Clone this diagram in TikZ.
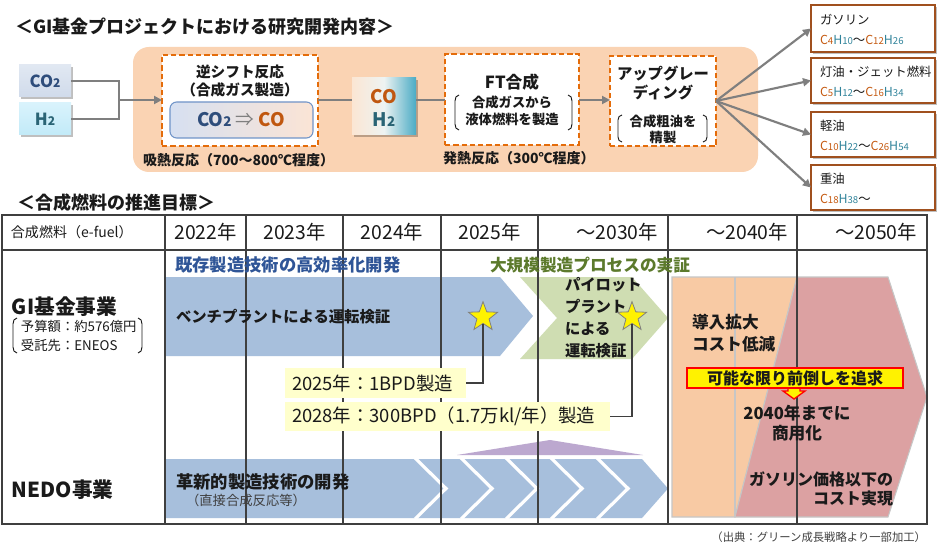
\documentclass[tikz,border=0pt]{standalone}
\usepackage{fontspec}
\setmainfont{Noto Sans CJK JP}
\usetikzlibrary{arrows.meta,shapes.geometric,fit,shadows}
\newcommand\fsz[2]{\fontsize{#1}{#2}\selectfont}
\newcommand\smsub[2]{{\fontsize{#1}{#1}\selectfont #2}}
\newcommand\fC[1]{\textcolor{formC}{C\smsub{7.2}{#1}}}
\newcommand\fH[1]{\textcolor{formH}{H\smsub{7.2}{#1}}}
\definecolor{textblack}{HTML}{1A1A1A}
\definecolor{peach}{HTML}{FAD3B3}
\definecolor{dashor}{HTML}{E46C0A}
\definecolor{arrowgrey}{HTML}{7F7F7F}
\definecolor{dblue}{HTML}{2E4D7B}
\definecolor{cobrown}{HTML}{C0570F}
\definecolor{hteal}{HTML}{2A6475}
\definecolor{fuelbrown}{HTML}{A0501E}
\definecolor{formC}{HTML}{C55A11}
\definecolor{formH}{HTML}{31849B}
\definecolor{bandblue}{HTML}{A7BFDC}
\definecolor{bandgreen}{HTML}{CFDDB2}
\definecolor{bandorange}{HTML}{F8CAA4}
\definecolor{bandpink}{HTML}{DCA1A2}
\definecolor{bandpurple}{HTML}{BCA8CF}
\definecolor{callyellow}{HTML}{FFFFCC}
\definecolor{titleblue}{HTML}{2F5597}
\definecolor{olivetext}{HTML}{5C7A2C}
\definecolor{gridline}{HTML}{3F3F3F}
\definecolor{innerblue}{HTML}{7094C8}
\definecolor{cotop}{HTML}{E1E8F2}
\definecolor{cobot}{HTML}{D0DBEB}
\definecolor{htop}{HTML}{D9F3FC}
\definecolor{hbot}{HTML}{C2EAF8}
\definecolor{rxleft}{HTML}{D6E0F1}
\definecolor{rxright}{HTML}{FBE4D5}
\definecolor{chleft}{HTML}{FBE6D3}
\definecolor{chright}{HTML}{4AABC5}
\definecolor{chmid}{HTML}{EEF3F2}
\begin{document}
\begin{tikzpicture}[x=0.75pt,y=-0.75pt,
  box/.style={inner sep=0pt,outer sep=0pt},
  lbl/.style={inner sep=0pt,outer sep=0pt,text=textblack},
  shadowed/.style={drop shadow={shadow xshift=1.2pt,shadow yshift=-1.2pt,fill=black,opacity=0.25}},
  dashbox/.style={box,draw=dashor,line width=1.6pt,dash pattern=on 4pt off 2.2pt,fill=white},
  gline/.style={draw=arrowgrey,line width=1.6pt},
  garrow/.style={gline,-{Triangle[length=6pt,width=6pt]}},
  fuelbox/.style={box,draw=fuelbrown,line width=1.5pt,fill=white,shadowed},
  grid/.style={draw=gridline,line width=0.9pt},
  brk/.style={draw=textblack,line width=0.7pt},
  lead/.style={draw=gridline,line width=0.8pt},
  starnode/.style={star,star points=5,star point ratio=2.4,minimum size=23pt,inner sep=0pt,fill=yellow,draw=gray,line width=0.6pt},
  callout/.style={box,fill=callyellow}]
\useasboundingbox (0,0) rectangle (937,545);
\fill[white] (0,0) rectangle (937,545);

% ---------- top section ----------
\node[lbl,anchor=west,font=\fsz{13.5}{16}\bfseries] (title1) at (15,27) {＜GI基金プロジェクトにおける研究開発内容＞};
\node[box,fit={(133,47)(758,172)},fill=peach,rounded corners=12pt] (stage) {};

\node[box,fit={(19,65)(71,97)},top color=cotop,bottom color=cobot,shadowed] (co2) {};
\node[lbl,font=\fsz{12.5}{14}\bfseries,text=dblue] (co2t) at (45,81) {CO\smsub{9}{2}};
\node[box,fit={(19,103)(71,135)},top color=htop,bottom color=hbot,shadowed] (h2) {};
\node[lbl,font=\fsz{12.5}{14}\bfseries,text=hteal] (h2t) at (45,119) {H\smsub{9}{2}};
\coordinate (join) at (119,100);

\node[dashbox,fit={(162,55)(318,146)}] (rev) {};
\node[lbl,align=center,font=\fsz{11}{13.5}\bfseries] (revt) at (240,81) {逆シフト反応\\（合成ガス製造）};
\node[box,fit={(170,102)(313,138)},rounded corners=5pt,left color=rxleft,right color=rxright,draw=innerblue,line width=0.8pt] (rx) {};
\node[lbl,font=\fsz{14}{16}\bfseries] (rxt) at (241,120) {\textcolor{dblue}{CO\smsub{10}{2}} \textcolor{arrowgrey}{\mdseries ⇒} \textcolor{cobrown}{CO}};
\node[lbl,anchor=west,font=\fsz{10.5}{12}\bfseries] (endo) at (143,160) {吸熱反応（700～800℃程度）};

\node[box,fit={(352,78)(416,135)},left color=chleft,right color=chright,middle color=chmid,shadowed] (coh2) {};
\node[lbl,font=\fsz{14}{17}\bfseries,text=cobrown] (coh2a) at (384,97) {CO};
\node[lbl,font=\fsz{14}{17}\bfseries,text=hteal] (coh2b) at (384,120) {H\smsub{10}{2}};

\node[dashbox,fit={(445,54)(579,145)}] (ft) {};
\node[lbl,font=\fsz{12.5}{14}\bfseries] (ftt) at (512,82) {FT合成};
\node[lbl,align=center,font=\fsz{10}{12.75}\bfseries] (ftd) at (512,111) {合成ガスから\\液体燃料を製造};
\node[lbl,anchor=west,font=\fsz{10.5}{12}\bfseries] (exo) at (443,158) {発熱反応（300℃程度）};

\node[dashbox,fit={(610,56)(716,146)}] (up) {};
\node[lbl,align=center,font=\fsz{11.5}{14}\bfseries] (upt) at (663,83) {アップグレー\\ディング};
\node[lbl,align=center,font=\fsz{10}{12}\bfseries] (upd) at (663,129) {合成粗油を\\精製};

% brackets
\draw[brk] (459,95) to[out=180,in=90] (455,101) -- (455,124) to[out=-90,in=180] (459,130);
\draw[brk] (568,95) to[out=0,in=90] (572,101) -- (572,124) to[out=-90,in=0] (568,130);
\draw[brk] (622,115) to[out=180,in=90] (618,120) -- (618,137) to[out=-90,in=180] (622,142);
\draw[brk] (703,115) to[out=0,in=90] (707,120) -- (707,137) to[out=-90,in=0] (703,142);

% connectors top
\draw[gline] (co2.east) -| (join);
\draw[gline] (h2.east) -| (join);
\draw[garrow] (join) -- (join -| rev.west);
\draw[gline] (rev.east |- join) -- (join -| coh2.west);
\draw[gline] (coh2.east |- join) -- (join -| ft.west);
\draw[garrow] (ft.east |- join) -- (join -| up.west);

% fuel boxes
\node[fuelbox,fit={(811,5)(935,52)}] (f1) {};
\node[fuelbox,fit={(811,58)(935,103)}] (f2) {};
\node[fuelbox,fit={(811,112)(935,157)}] (f3) {};
\node[fuelbox,fit={(811,165)(935,210)}] (f4) {};
\node[lbl,anchor=west,align=left,font=\fsz{9.3}{15}] (f1t) at (820,29) {ガソリン\\\fC{4}\fH{10}～\fC{12}\fH{26}};
\node[lbl,anchor=west,align=left,font=\fsz{9.3}{15}] (f2t) at (820,81) {灯油・ジェット燃料\\\fC{5}\fH{12}～\fC{16}\fH{34}};
\node[lbl,anchor=west,align=left,font=\fsz{9.3}{15}] (f3t) at (820,135) {軽油\\\fC{10}\fH{22}～\fC{26}\fH{54}};
\node[lbl,anchor=west,align=left,font=\fsz{9.3}{15}] (f4t) at (820,188) {重油\\\fC{18}\fH{38}～};
\draw[garrow] (up.east) -- (f1.west);
\draw[garrow] (up.east) -- (f2.west);
\draw[garrow] (up.east) -- (f3.west);
\draw[garrow] (up.east) -- (f4.west);

% ---------- bottom section ----------
\node[lbl,anchor=west,font=\fsz{13.5}{16}\bfseries] (title2) at (17,203) {＜合成燃料の推進目標＞};

% bands
\fill[bandblue] (165,277) -- (500,277) -- (533,316) -- (500,356) -- (165,356) -- cycle;
\fill[bandgreen] (520,277) -- (632,277) -- (668,318) -- (632,359) -- (520,359) -- (557,318) -- cycle;
\filldraw[fill=bandorange,draw=gray!45,line width=0.8pt] (672,277) -- (797,277) -- (735,517) -- (672,517) -- cycle;
\draw[gray!45,line width=0.8pt] (735,277) -- (735,517);
\filldraw[fill=bandpink,draw=gray!45,line width=0.8pt] (797,277) -- (888,277) -- (927,397) -- (888,517) -- (735,517) -- cycle;
\fill[bandpurple] (457,455) -- (550,440) -- (643,455) -- cycle;
\fill[bandblue] (165,459) -- (642,459) -- (668,488.5) -- (642,518) -- (165,518) -- cycle;
\foreach \cx in {415,461,506,551,597}
  \draw[white,line width=2.4pt] (\cx,458) -- (\cx+31,488.5) -- (\cx,519);

% grid
\draw[grid] (2,215) rectangle (927,524);
\draw[grid] (2,250) -- (927,250);
\foreach \gx in {165,246,343,441,538,668,797}
  \draw[grid] (\gx,215) -- (\gx,524);

% header texts
\node[lbl,anchor=west,font=\fsz{10.5}{12}] (hc) at (11,232.5) {合成燃料（e-fuel）};
\node[lbl,font=\fsz{14.5}{16}] (h22) at (205.5,232.5) {2022年};
\node[lbl,font=\fsz{14.5}{16}] (h23) at (294.5,232.5) {2023年};
\node[lbl,font=\fsz{14.5}{16}] (h24) at (392,232.5) {2024年};
\node[lbl,font=\fsz{14.5}{16}] (h25) at (489.5,232.5) {2025年};
\node[lbl,anchor=east,font=\fsz{14.5}{16}] (h30) at (658,232.5) {～2030年};
\node[lbl,anchor=east,font=\fsz{14.5}{16}] (h40) at (788,232.5) {～2040年};
\node[lbl,anchor=east,font=\fsz{14.5}{16}] (h50) at (917,232.5) {～2050年};

% left column
\node[lbl,anchor=west,font=\fsz{15.5}{17}\bfseries] (gi) at (12,307) {GI基金事業};
\node[lbl,anchor=west,align=left,font=\fsz{10}{14}] (gid) at (21,336) {予算額：約576億円\\受託先：ENEOS};
\draw[brk] (17,318) to[out=180,in=90] (13,324) -- (13,347) to[out=-90,in=180] (17,353);
\draw[brk] (138,318) to[out=0,in=90] (142,324) -- (142,347) to[out=-90,in=0] (138,353);
\node[lbl,anchor=west,font=\fsz{15.5}{17}\bfseries] (nedo) at (12,490) {NEDO事業};

% GI row texts
\node[lbl,anchor=west,font=\fsz{13}{15}\bfseries,text=titleblue] (gi1) at (175,265) {既存製造技術の高効率化開発};
\node[lbl,anchor=west,font=\fsz{12.5}{15}\bfseries,text=olivetext] (gi2) at (490,265) {大規模製造プロセスの実証};
\node[lbl,anchor=west,font=\fsz{11.5}{14}\bfseries] (bench) at (176,317) {ベンチプラントによる運転検証};
\node[lbl,anchor=west,align=left,font=\fsz{11.5}{16.5}\bfseries] (pilot) at (565,318) {パイロット\\プラント\\による\\運転検証};
\node[lbl,anchor=west,align=left,font=\fsz{12.5}{16.5}\bfseries] (intro) at (692,333) {導入拡大\\コスト低減};

% callouts and leaders
\node[callout,fit={(285,368)(466,398)}] (cb1) {};
\node[callout,fit={(285,402)(610,431)}] (cb2) {};
\node[lbl,anchor=west,font=\fsz{13.8}{15}] (cb1t) at (292,383) {2025年：1BPD製造};
\node[lbl,anchor=west,font=\fsz{13.8}{15}] (cb2t) at (292,416.5) {2028年：300BPD（1.7万kl/年）製造};
\node[starnode] (s1) at (483,317) {};
\node[starnode] (s2) at (632,317) {};
\draw[lead] (s1.south) |- (cb1.east);
\draw[lead] (s2.south) |- (cb2.east);

% banner
\fill[yellow,draw=red,line width=1pt] (788,386) -- (800,386) -- (800,391) -- (805,391) -- (794,399) -- (783,391) -- (788,391) -- cycle;
\node[box,fit={(687,368)(903,388)},fill=yellow,draw=red,line width=1.2pt] (banner) {};
\node[lbl,font=\fsz{12}{14}\bfseries] (bannert) at (795,378) {可能な限り前倒しを追求};
\node[lbl,align=center,font=\fsz{12.5}{15}\bfseries] (comm) at (797,423) {2040年までに\\商用化};
\node[lbl,anchor=east,align=right,font=\fsz{12}{14.5}\bfseries] (cost) at (893,489) {ガソリン価格以下の\\コスト実現};

% NEDO texts
\node[lbl,anchor=west,font=\fsz{13}{15}\bfseries] (ned1) at (176,482) {革新的製造技術の開発};
\node[lbl,anchor=west,font=\fsz{10}{12},text=black!75] (ned2) at (186,500) {（直接合成反応等）};

\node[lbl,anchor=east,font=\fsz{8.5}{10},text=black!75] (src) at (926,537) {（出典：グリーン成長戦略より一部加工）};
\end{tikzpicture}
\end{document}
